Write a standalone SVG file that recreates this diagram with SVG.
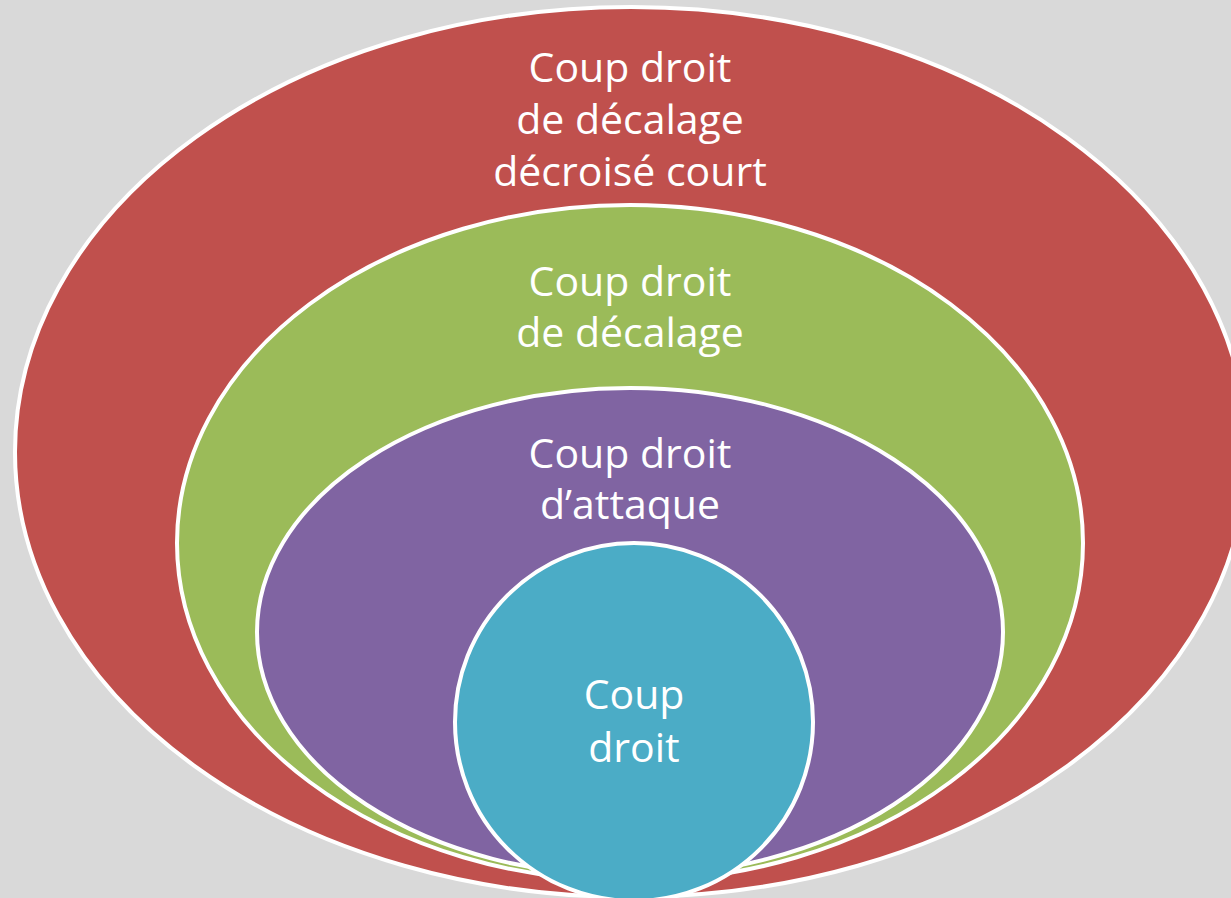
<svg xmlns="http://www.w3.org/2000/svg" width="1231" height="898" viewBox="0 0 1231 898">
  <style>
    .ring { stroke: #ffffff; stroke-width: 4; }
    .label { fill: #ffffff; font-family: "Open Sans", "Liberation Sans", sans-serif; font-size: 41px; text-anchor: middle; }
  </style>
  <rect x="0" y="0" width="1231" height="898" fill="#d9d9d9"/>

  <g id="ring-decroise">
    <ellipse class="ring" cx="631" cy="452" rx="616" ry="445" fill="#c0504d"/>
    <text class="label" x="630" y="82">Coup droit</text>
    <text class="label" x="630" y="134">de décalage</text>
    <text class="label" x="630" y="186">décroisé court</text>
  </g>

  <g id="ring-decalage">
    <ellipse class="ring" cx="630" cy="543" rx="453" ry="338" fill="#9bbb59"/>
    <text class="label" x="630" y="296">Coup droit</text>
    <text class="label" x="630" y="347">de décalage</text>
  </g>

  <g id="ring-attaque">
    <ellipse class="ring" cx="630" cy="632" rx="373" ry="244" fill="#8064a2"/>
    <text class="label" x="630" y="468">Coup droit</text>
    <text class="label" x="630" y="519">d’attaque</text>
  </g>

  <g id="ring-coup-droit">
    <ellipse class="ring" cx="634" cy="722" rx="179" ry="179" fill="#4bacc6"/>
    <text class="label" x="634" y="709">Coup</text>
    <text class="label" x="634" y="762">droit</text>
  </g>

  <g id="connectors"/>
</svg>
